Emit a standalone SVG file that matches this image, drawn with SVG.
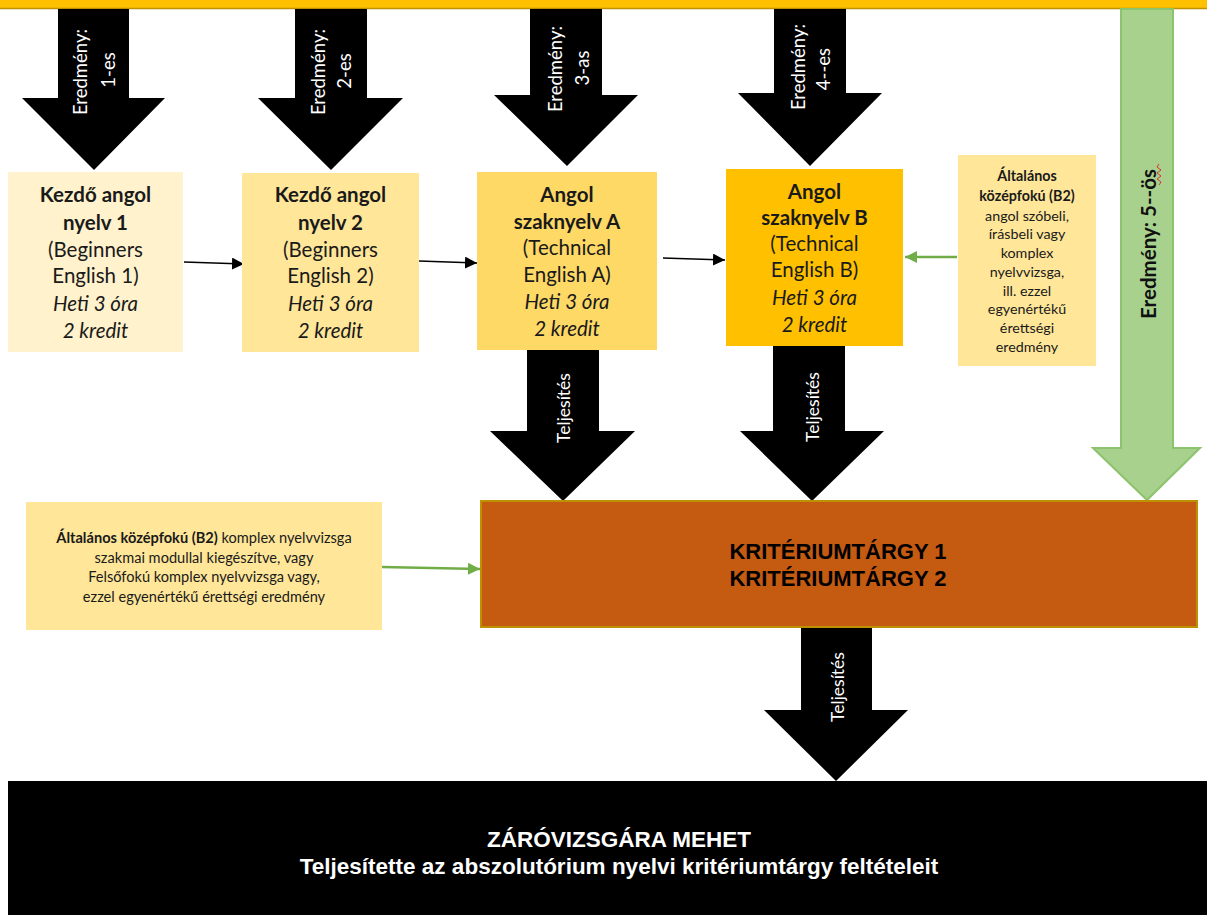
<svg xmlns="http://www.w3.org/2000/svg" width="1207" height="915" viewBox="0 0 1207 915">
<style>
.box{stroke:none}
.t{font-family:Lato,"Liberation Sans",sans-serif;fill:#1a1a1a;text-anchor:middle}
.b18{font-size:20.5px;font-weight:bold}
.n18{font-size:20.5px}
.i18{font-size:20.5px;font-style:italic}
.s13{font-size:14.3px}
.s14{font-size:14.6px}
.w{font-family:Lato,"Liberation Sans",sans-serif;fill:#ffffff;text-anchor:middle;dominant-baseline:central}
.ar{fill:#000000}
.ax{font-family:"Liberation Sans",Arial,sans-serif;font-weight:bold;text-anchor:middle}
</style>
<defs>
<marker id="mb" viewBox="0 0 10 10" refX="10" refY="5" markerWidth="12" markerHeight="12" markerUnits="userSpaceOnUse" orient="auto"><path d="M0,0 L10,5 L0,10 z" fill="#000"/></marker>
<marker id="mg" viewBox="0 0 10 10" refX="10" refY="5" markerWidth="12" markerHeight="12" markerUnits="userSpaceOnUse" orient="auto"><path d="M0,0 L10,5 L0,10 z" fill="#70AD47"/></marker>
</defs>
<rect width="1207" height="915" fill="#ffffff"/>
<g id="topbar">
<rect x="0" y="0" width="1207" height="8" fill="#FFC000"/>
<line x1="0" y1="8.5" x2="1207" y2="8.5" stroke="#BF9000" stroke-width="1.5"/>
</g>
<g id="connectors">
<polygon class="ar" points="58,9 129,9 129,98 165,98 94,170 22,98 58,98"/>
<text class="w" font-size="18.5" transform="translate(80,72) rotate(-90)">Eredmény:</text>
<text class="w" font-size="18.5" transform="translate(108,70) rotate(-90)">1-es</text>
<polygon class="ar" points="295,9 367,9 367,98 403,98 331,170 258,98 295,98"/>
<text class="w" font-size="18.5" transform="translate(318,72) rotate(-90)">Eredmény:</text>
<text class="w" font-size="18.5" transform="translate(344,71) rotate(-90)">2-es</text>
<polygon class="ar" points="530,9 602,9 602,95 638,95 567,166 494,95 530,95"/>
<text class="w" font-size="18.5" transform="translate(555,69) rotate(-90)">Eredmény:</text>
<text class="w" font-size="18.5" transform="translate(582,68) rotate(-90)">3-as</text>
<polygon class="ar" points="774,9 846,9 846,93 882,93 810,166 738,93 774,93"/>
<text class="w" font-size="18.5" transform="translate(798,67) rotate(-90)">Eredmény:</text>
<text class="w" font-size="18.5" transform="translate(823,69) rotate(-90)">4--es</text>
<line x1="184" y1="262" x2="244" y2="264" stroke="#000" stroke-width="1.3" marker-end="url(#mb)"/>
<line x1="419" y1="261" x2="477" y2="263" stroke="#000" stroke-width="1.3" marker-end="url(#mb)"/>
<line x1="663" y1="258" x2="725" y2="260" stroke="#000" stroke-width="1.3" marker-end="url(#mb)"/>
<line x1="957" y1="257" x2="905" y2="257" stroke="#70AD47" stroke-width="2.5" marker-end="url(#mg)"/>
<line x1="382" y1="567" x2="480" y2="569" stroke="#70AD47" stroke-width="2.5" marker-end="url(#mg)"/>
<polygon points="1121,9 1173,9 1173,448 1200,448 1147,500 1093,448 1121,448" fill="#A9D18E" stroke="#8CC36D" stroke-width="2"/>
<text x="0" y="0" font-family="Lato,'Liberation Sans',sans-serif" font-size="20.5" font-weight="bold" fill="#111" text-anchor="middle" dominant-baseline="central" transform="translate(1148,244) rotate(-90)">Eredmény: 5--ös</text>
<polyline points="1159,164 1157,167 1161,170 1157,173 1161,176 1157,179 1161,182 1159,185" fill="none" stroke="#E03030" stroke-width="1"/>
<polygon class="ar" points="527,350 599,350 599,431 635,431 563,501 490,431 527,431"/>
<text class="w" font-size="17.5" transform="translate(563,408) rotate(-90)">Teljesítés</text>
<polygon class="ar" points="773,346 845,346 845,431 884,431 812,501 740,431 773,431"/>
<text class="w" font-size="17.5" transform="translate(812,407) rotate(-90)">Teljesítés</text>
<polygon class="ar" points="801,627 872,627 872,710 908,710 836,781 764,710 801,710"/>
<text class="w" font-size="17.5" transform="translate(837,687) rotate(-90)">Teljesítés</text>
</g>
<g id="node-kezdo1">
<rect class="box" x="8" y="172" width="175" height="180" fill="#FFF2CC"/>
<text class="t b18" x="95.5" y="202">Kezdő angol</text>
<text class="t b18" x="95.5" y="230">nyelv 1</text>
<text class="t n18" x="95.5" y="257">(Beginners</text>
<text class="t n18" x="95.5" y="283">English 1)</text>
<text class="t i18" x="95.5" y="311">Heti 3 óra</text>
<text class="t i18" x="95.5" y="338">2 kredit</text>
</g>
<g id="node-kezdo2">
<rect class="box" x="242" y="173" width="177" height="179" fill="#FFE699"/>
<text class="t b18" x="330.5" y="202">Kezdő angol</text>
<text class="t b18" x="330.5" y="230">nyelv 2</text>
<text class="t n18" x="330.5" y="257">(Beginners</text>
<text class="t n18" x="330.5" y="283">English 2)</text>
<text class="t i18" x="330.5" y="311">Heti 3 óra</text>
<text class="t i18" x="330.5" y="338">2 kredit</text>
</g>
<g id="node-szaknyelvA">
<rect class="box" x="477" y="172" width="180" height="178" fill="#FFD966"/>
<text class="t b18" x="567" y="202">Angol</text>
<text class="t b18" x="567" y="229">szaknyelv A</text>
<text class="t n18" x="567" y="255">(Technical</text>
<text class="t n18" x="567" y="282">English A)</text>
<text class="t i18" x="567" y="309">Heti 3 óra</text>
<text class="t i18" x="567" y="336">2 kredit</text>
</g>
<g id="node-szaknyelvB">
<rect class="box" x="726" y="169" width="177" height="177" fill="#FFC000"/>
<text class="t b18" x="814.5" y="199">Angol</text>
<text class="t b18" x="814.5" y="225">szaknyelv B</text>
<text class="t n18" x="814.5" y="251">(Technical</text>
<text class="t n18" x="814.5" y="277">English B)</text>
<text class="t i18" x="814.5" y="305">Heti 3 óra</text>
<text class="t i18" x="814.5" y="332">2 kredit</text>
</g>
<g id="node-b2-right">
<rect class="box" x="958" y="155" width="138" height="211" fill="#FFE699"/>
<text class="t s13" x="1027" y="181" font-weight="bold">Általános</text>
<text class="t s13" x="1027" y="201" font-weight="bold">középfokú (B2)</text>
<text class="t s13" x="1027" y="221">angol szóbeli,</text>
<text class="t s13" x="1027" y="239">írásbeli vagy</text>
<text class="t s13" x="1027" y="258">komplex</text>
<text class="t s13" x="1027" y="277">nyelvvizsga,</text>
<text class="t s13" x="1027" y="296">ill. ezzel</text>
<text class="t s13" x="1027" y="314">egyenértékű</text>
<text class="t s13" x="1027" y="333">érettségi</text>
<text class="t s13" x="1027" y="352">eredmény</text>
</g>
<g id="node-b2-left">
<rect class="box" x="26" y="502" width="356" height="128" fill="#FFE699"/>
<text class="t s14" x="204" y="543"><tspan font-weight="bold">Általános középfokú (B2)</tspan> komplex nyelvvizsga</text>
<text class="t s14" x="204" y="563">szakmai modullal kiegészítve, vagy</text>
<text class="t s14" x="204" y="582">Felsőfokú komplex nyelvvizsga vagy,</text>
<text class="t s14" x="204" y="602">ezzel egyenértékű érettségi eredmény</text>
</g>
<g id="node-kriterium">
<rect x="481" y="501" width="716" height="126" fill="#C55A11" stroke="#BF9000" stroke-width="2"/>
<text class="ax" x="838" y="559" font-size="22" fill="#000">KRITÉRIUMTÁRGY 1</text>
<text class="ax" x="838" y="586" font-size="22" fill="#000">KRITÉRIUMTÁRGY 2</text>
</g>
<g id="node-zarovizsga">
<rect x="8" y="781" width="1199" height="134" fill="#000000"/>
<text class="ax" x="619" y="847" font-size="22.5" fill="#fff">ZÁRÓVIZSGÁRA MEHET</text>
<text class="ax" x="619" y="874" font-size="22.5" fill="#fff">Teljesítette az abszolutórium nyelvi kritériumtárgy feltételeit</text>
</g>
</svg>
